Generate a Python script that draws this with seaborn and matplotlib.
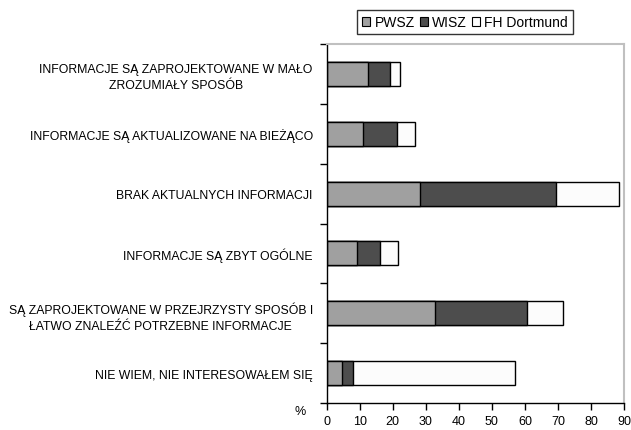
import numpy as np
import pandas as pd
import matplotlib
matplotlib.use("Agg")
import matplotlib.pyplot as plt
from matplotlib.patches import Patch
import seaborn as sns

categories = [
    "INFORMACJE SĄ ZAPROJEKTOWANE W MAŁO\nZROZUMIAŁY SPOSÓB",
    "INFORMACJE SĄ AKTUALIZOWANE NA BIEŻĄCO",
    "BRAK AKTUALNYCH INFORMACJI",
    "INFORMACJE SĄ ZBYT OGÓLNE",
    "SĄ ZAPROJEKTOWANE W PRZEJRZYSTY SPOSÓB I\nŁATWO ZNALEŹĆ POTRZEBNE INFORMACJE",
    "NIE WIEM, NIE INTERESOWAŁEM SIĘ",
]
series_names = ["PWSZ", "WISZ", "FH Dortmund"]
pwsz = [12.4, 10.9, 28.3, 9.3, 32.8, 4.7]
wisz = [6.9, 10.3, 41.2, 6.9, 27.8, 3.4]
fh = [2.8, 5.5, 19.0, 5.3, 10.8, 48.9]
x_ticks = [0, 10, 20, 30, 40, 50, 60, 70, 80, 90]

colors = ["#a0a0a0", "#4d4d4d", "#fcfcfc"]

sns.set_style("white")
plt.rcParams["font.family"] = ["Liberation Sans", "DejaVu Sans"]
plt.rcParams["text.color"] = "black"
plt.rcParams["xtick.color"] = "black"
plt.rcParams["ytick.color"] = "black"

df = pd.DataFrame({"kategoria": categories, "PWSZ": pwsz, "WISZ": wisz, "FH Dortmund": fh})
cum = df[series_names].cumsum(axis=1)

fig = plt.figure(figsize=(6.31, 4.31), dpi=100)
ax = fig.add_axes([326.7 / 631, 1 - 404 / 431, 297.3 / 631, 359 / 431])

# stacked bars: draw the running totals from the longest to the shortest
for name, col in reversed(list(zip(series_names, colors))):
    sns.barplot(x=cum[name], y=df["kategoria"], orient="h", color=col,
                width=0.4, edgecolor="black", linewidth=1.0, ax=ax,
                saturation=1, order=categories)

ax.set_xlim(0, 90)
ax.set_xticks(x_ticks)
ax.set_xticklabels([str(t) for t in x_ticks], fontsize=9)
ax.set_xlabel("")
ax.set_ylabel("")
ax.set_ylim(5.5, -0.5)
ax.set_yticks(range(len(categories)))
ax.set_yticklabels(categories, fontsize=8.8, ha="right", multialignment="center",
                   linespacing=1.45)
ax.tick_params(axis="y", length=0, pad=10)
# boundary ticks between categories
ax.set_yticks(np.arange(-0.5, 6.0, 1.0), minor=True)
ax.tick_params(axis="y", which="minor", length=5, width=1, color="black", direction="out", left=True)
ax.tick_params(axis="x", length=5, width=1, color="black", direction="out", bottom=True, pad=4)

for side in ["left", "bottom"]:
    ax.spines[side].set_color("black")
    ax.spines[side].set_linewidth(1)
for side in ["top", "right"]:
    ax.spines[side].set_color("#c0c0c0")
    ax.spines[side].set_linewidth(1.5)

ax.text(-0.09, -0.005, "%", transform=ax.transAxes, fontsize=9, ha="center", va="top")

handles = [Patch(facecolor=c, edgecolor="black", linewidth=0.8) for c in colors]
leg = fig.legend(handles, series_names, ncol=3, loc="center",
                 bbox_to_anchor=(465 / 631, 1 - 23 / 431), fontsize=10,
                 frameon=True, fancybox=False, handlelength=0.6, handleheight=0.6,
                 handletextpad=0.3, columnspacing=0.35, borderpad=0.35, borderaxespad=0)
leg.get_frame().set_edgecolor("black")
leg.get_frame().set_linewidth(1)

fig.savefig("out.png", dpi=100)
